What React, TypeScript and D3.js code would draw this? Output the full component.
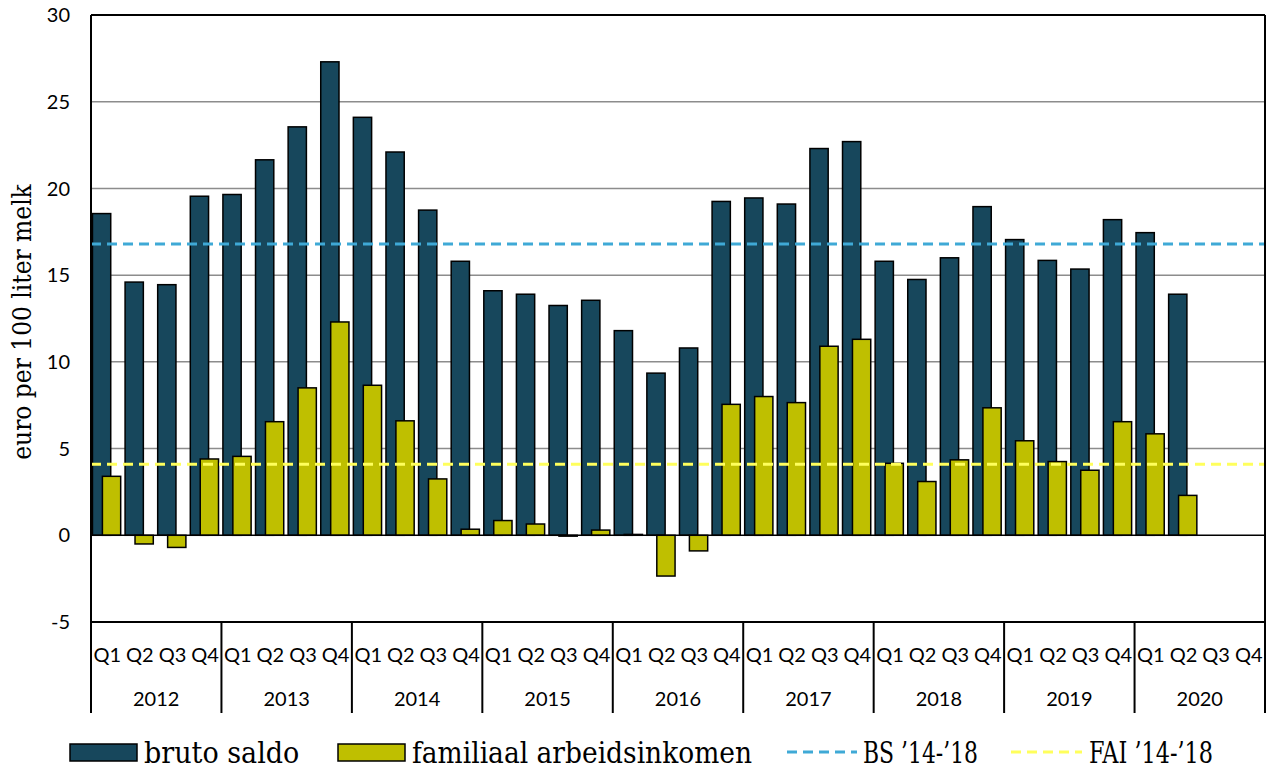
import { useEffect } from 'react';
import * as d3 from 'd3';

const years = ['2012', '2013', '2014', '2015', '2016', '2017', '2018', '2019', '2020'];
const quarters = ['Q1', 'Q2', 'Q3', 'Q4'];

// bruto saldo, euro per 100 liter melk (null = no data yet)
const brutoSaldo: (number | null)[] = [
  18.55, 14.6, 14.45, 19.55,
  19.65, 21.65, 23.55, 27.3,
  24.1, 22.1, 18.75, 15.8,
  14.1, 13.9, 13.25, 13.55,
  11.8, 9.35, 10.8, 19.25,
  19.45, 19.1, 22.3, 22.7,
  15.8, 14.75, 16.0, 18.95,
  17.05, 15.85, 15.35, 18.2,
  17.45, 13.9, null, null,
];

// familiaal arbeidsinkomen
const fai: (number | null)[] = [
  3.4, -0.5, -0.7, 4.4,
  4.55, 6.55, 8.5, 12.3,
  8.65, 6.6, 3.25, 0.35,
  0.85, 0.65, -0.05, 0.3,
  0.05, -2.35, -0.9, 7.55,
  8.0, 7.65, 10.9, 11.3,
  4.15, 3.1, 4.35, 7.35,
  5.45, 4.25, 3.75, 6.55,
  5.85, 2.3, null, null,
];

const bsAvg = 16.8;
const faiAvg = 4.1;
const yTicks = [-5, 0, 5, 10, 15, 20, 25, 30];

const W = 1270;
const H = 771;
const M = { top: 15, right: 5, bottom: 149, left: 91 };

const DARK = '#17475c';
const YELLOW = '#bfbf00';
const BLUE_DASH = '#3fa9d6';
const YELLOW_DASH = '#ffff5c';
const DASH = '10 6';
const TICK_FONT = 'Lato, "Open Sans", sans-serif';
const SERIF = '"DejaVu Serif Condensed", "DejaVu Serif", serif';

export default function App() {
  useEffect(() => {
    document.body.style.margin = '0';
  }, []);

  const slots = years.flatMap(y => quarters.map(q => `${y}-${q}`));
  const x = d3.scaleBand<string>().domain(slots).range([M.left, W - M.right]).padding(0);
  const y = d3.scaleLinear().domain([-5, 30]).range([H - M.bottom, M.top]);
  const sw = x.bandwidth();
  const bw = sw * 0.56;

  const plotL = M.left;
  const plotR = W - M.right;
  const plotB = H - M.bottom;
  const axisB = 713;

  const bar = (v: number, x0: number, fill: string, key: string) => (
    <rect
      key={key}
      x={x0}
      y={Math.min(y(v), y(0))}
      width={bw}
      height={Math.abs(y(v) - y(0))}
      fill={fill}
      stroke="#000"
      strokeWidth={1.5}
    />
  );

  return (
    <svg width={W} height={H} style={{ display: 'block', background: '#fff' }}>
      {/* gridlines */}
      {yTicks.filter(t => t > -5 && t < 30 && t !== 0).map(t => (
        <line key={t} x1={plotL} x2={plotR} y1={y(t)} y2={y(t)} stroke="#8c8c8c" strokeWidth={1.5} />
      ))}

      {/* bruto saldo */}
      {brutoSaldo.map((v, i) => (v == null ? null : bar(v, x(slots[i])! + sw * 0.045, DARK, `b${i}`)))}
      {/* familiaal arbeidsinkomen */}
      {fai.map((v, i) => (v == null ? null : bar(v, x(slots[i])! + sw * 0.35, YELLOW, `f${i}`)))}

      {/* zero line */}
      <line x1={plotL} x2={plotR} y1={y(0)} y2={y(0)} stroke="#000" strokeWidth={1.5} />

      {/* averages */}
      <line x1={plotL} x2={plotR} y1={y(bsAvg)} y2={y(bsAvg)} stroke={BLUE_DASH} strokeWidth={3} strokeDasharray={DASH} />
      <line x1={plotL} x2={plotR} y1={y(faiAvg)} y2={y(faiAvg)} stroke={YELLOW_DASH} strokeWidth={3} strokeDasharray={DASH} />

      {/* plot frame */}
      <line x1={plotL} x2={plotR} y1={M.top} y2={M.top} stroke="#000" strokeWidth={2} />
      <line x1={plotL} x2={plotR} y1={plotB} y2={plotB} stroke="#000" strokeWidth={2} />
      <line x1={plotL} x2={plotL} y1={M.top} y2={axisB} stroke="#000" strokeWidth={2} />
      <line x1={plotR} x2={plotR} y1={M.top} y2={axisB} stroke="#000" strokeWidth={2} />

      {/* y ticks */}
      {yTicks.map(t => (
        <text
          key={t}
          x={70}
          y={y(t)}
          dy="0.36em"
          textAnchor="end"
          fontFamily={TICK_FONT}
          fontSize={20}
          fill="#000"
        >
          {t}
        </text>
      ))}

      {/* category axis */}
      {years.map((yr, yi) => {
        const x0 = x(`${yr}-Q1`)!;
        const x1 = x0 + sw * 4;
        return (
          <g key={yr}>
            {yi > 0 && <line x1={x0} x2={x0} y1={plotB} y2={axisB} stroke="#000" strokeWidth={2} />}
            {quarters.map(q => (
              <text
                key={q}
                x={x(`${yr}-${q}`)! + sw / 2}
                y={655}
                dy="0.36em"
                textAnchor="middle"
                fontFamily={TICK_FONT}
                fontSize={20}
                fill="#000"
              >
                {q}
              </text>
            ))}
            <text
              x={(x0 + x1) / 2}
              y={699}
              dy="0.36em"
              textAnchor="middle"
              fontFamily={TICK_FONT}
              fontSize={20}
              fill="#000"
            >
              {yr}
            </text>
          </g>
        );
      })}

      {/* y axis title */}
      <text
        transform="translate(31,322) rotate(-90)"
        textAnchor="middle"
        fontFamily={SERIF}
        fontSize={26}
        fill="#000"
      >
        euro per 100 liter melk
      </text>

      {/* legend */}
      <g fontFamily={SERIF} fontSize={30} fill="#000">
        <rect x={70} y={744} width={67} height={17} fill={DARK} stroke="#000" strokeWidth={1.5} />
        <text x={144} y={763}>bruto saldo</text>
        <rect x={338} y={744} width={67} height={17} fill={YELLOW} stroke="#000" strokeWidth={1.5} />
        <text x={412} y={763} textLength={340} lengthAdjust="spacingAndGlyphs">familiaal arbeidsinkomen</text>
        <line x1={787} x2={857} y1={752} y2={752} stroke={BLUE_DASH} strokeWidth={3} strokeDasharray={DASH} />
        <text x={863} y={763} textLength={115} lengthAdjust="spacingAndGlyphs">BS ’14-’18</text>
        <line x1={1011} x2={1082} y1={752} y2={752} stroke={YELLOW_DASH} strokeWidth={3} strokeDasharray={DASH} />
        <text x={1089} y={763} textLength={124} lengthAdjust="spacingAndGlyphs">FAI ’14-’18</text>
      </g>
    </svg>
  );
}
